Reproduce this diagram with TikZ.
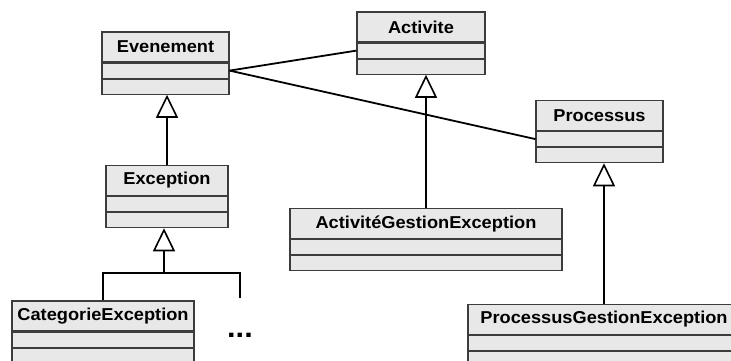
\documentclass[tikz,border=0pt]{standalone}
\usepackage{fontspec}
\newfontfamily\umlfont{Liberation Sans}[FakeStretch=1.06]
\usetikzlibrary{positioning,arrows.meta}
\definecolor{boxgray}{HTML}{E8E8E8}
\definecolor{edgegray}{HTML}{3C3C3C}
\tikzset{
  classname/.style={draw=edgegray, fill=boxgray, line width=1.1pt, inner sep=0pt,
                    minimum height=30pt, font=\umlfont\bfseries\fontsize{17.2}{20}\selectfont},
  classpart/.style={draw=edgegray, fill=boxgray, line width=1.1pt, inner sep=0pt,
                    minimum height=15pt},
  assoc/.style={line width=1.8pt},
  inherit/.style={line width=1.8pt, -{Triangle[open, length=23pt, width=22pt, line width=1.6pt]}}
}
\begin{document}
\begin{tikzpicture}[x=1pt, y=-1pt]
  \useasboundingbox (0,0) rectangle (731,360);
  % classes
  \node[classname, minimum width=127pt] (ev) at (165.5,47) {Evenement};
  \node[classpart, minimum width=127pt, below=0pt of ev] (ev1) {};
  \node[classpart, minimum width=127pt, below=0pt of ev1] (ev2) {};
  \node[classname, minimum width=128pt] (act) at (421,27) {Activite};
  \node[classpart, minimum width=128pt, below=0pt of act] (act1) {};
  \node[classpart, minimum width=128pt, below=0pt of act1] (act2) {};
  \node[classname, minimum width=127pt] (pr) at (599.5,115.5) {Processus};
  \node[classpart, minimum width=127pt, below=0pt of pr] (pr1) {};
  \node[classpart, minimum width=127pt, below=0pt of pr1] (pr2) {};
  \node[classname, minimum width=122pt] (ex) at (167,180.5) {Exception};
  \node[classpart, minimum width=122pt, below=0pt of ex] (ex1) {};
  \node[classpart, minimum width=122pt, below=0pt of ex1] (ex2) {};
  \node[classname, minimum width=182pt] (cat) at (103,316) {CategorieException};
  \node[classpart, minimum width=182pt, below=0pt of cat] (cat1) {};
  \node[classpart, minimum width=182pt, below=0pt of cat1] (cat2) {};
  \node[classname, minimum width=272pt] (agx) at (426,223.5) {ActivitéGestionException};
  \node[classpart, minimum width=272pt, below=0pt of agx] (agx1) {};
  \node[classpart, minimum width=272pt, below=0pt of agx1] (agx2) {};
  \node[classname, minimum width=272pt] (pgx) at (604,319.5) {ProcessusGestionException};
  \node[classpart, minimum width=272pt, below=0pt of pgx] (pgx1) {};
  \node[classpart, minimum width=272pt, below=0pt of pgx1] (pgx2) {};
  \node[font=\umlfont\bfseries\fontsize{29}{30}\selectfont, inner sep=0pt] (more) at (240,335) {...};
  % associations
  \draw[assoc] (ev1.east) -- (act1.west);
  \draw[assoc] (ev1.east) -- (pr1.west);
  % generalisations
  \draw[inherit] (ex.north) -- (ex.north |- ev2.south);
  \draw[inherit] (agx.north) -- (agx.north |- act2.south);
  \draw[inherit] (pgx.north) -- (pgx.north |- pr2.south);
  \coordinate (fork) at (164,273);
  \coordinate (moretop) at (240,298);
  \draw[assoc] (cat.north) |- (fork) -| (moretop);
  \draw[inherit] (fork) -- (fork |- ex2.south);
\end{tikzpicture}
\end{document}
